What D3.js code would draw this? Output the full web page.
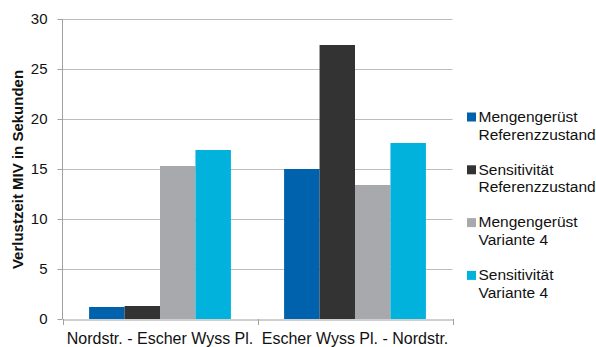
<!DOCTYPE html>
<html>
<head>
<meta charset="utf-8">
<script src="https://cdn.jsdelivr.net/npm/d3@7/dist/d3.min.js"></script>
<style>
  html, body { margin: 0; padding: 0; background: #fff; }
  svg { display: block; font-family: "Liberation Sans", Arial, sans-serif; }
</style>
</head>
<body>
<svg id="chart" width="596" height="347"></svg>
<script>
// Categories (road sections) and series
const categories = ["Nordstr. - Escher Wyss Pl.", "Escher Wyss Pl. - Nordstr."];
const seriesNames = [
  ["Mengengerüst", "Referenzzustand"],
  ["Sensitivität", "Referenzzustand"],
  ["Mengengerüst", "Variante 4"],
  ["Sensitivität", "Variante 4"]
];
const seriesColors = ["#0062ac", "#333333", "#a7a9ac", "#00b2dc"];
// Values per series, in the order of the categories
const mengengeruestReferenz = [1.2, 15.0];
const sensitivitaetReferenz = [1.3, 27.4];
const mengengeruestVariante4 = [15.3, 13.4];
const sensitivitaetVariante4 = [16.9, 17.6];
const seriesValues = [mengengeruestReferenz, sensitivitaetReferenz, mengengeruestVariante4, sensitivitaetVariante4];
const yTicks = [0, 5, 10, 15, 20, 25, 30];
const yTitle = "Verlustzeit MIV in Sekunden";

const svg = d3.select("#chart");
const plot = { left: 62.5, right: 452.5, top: 19, bottom: 319 };
const textColor = "#111";

const x = d3.scaleBand().domain(categories).range([plot.left, plot.right]);
const seriesIdx = d3.range(seriesValues.length);
// gap width of 150 % of one bar: 0.75 bar on each side
const xInner = d3.scaleBand().domain(seriesIdx).range([0, x.bandwidth()]).paddingOuter(0.75).paddingInner(0);
const y = d3.scaleLinear().domain([0, 30]).range([plot.bottom, plot.top]);

// horizontal gridlines
svg.append("g").selectAll("line").data(yTicks.filter(d => d > 0)).join("line")
  .attr("x1", plot.left).attr("x2", plot.right)
  .attr("y1", d => Math.round(y(d)) + 0.5).attr("y2", d => Math.round(y(d)) + 0.5)
  .attr("stroke", "#bdbdbd").attr("stroke-width", 1);

// bars
const groups = svg.append("g").selectAll("g").data(categories).join("g")
  .attr("transform", d => `translate(${x(d)},0)`);
groups.selectAll("rect").data((c, ci) => seriesIdx.map(s => ({ s, v: seriesValues[s][ci] }))).join("rect")
  .attr("x", d => xInner(d.s))
  .attr("width", xInner.bandwidth())
  .attr("y", d => y(d.v))
  .attr("height", d => y(0) - y(d.v))
  .attr("fill", d => seriesColors[d.s]);

// y axis
const yAxis = svg.append("g").attr("transform", `translate(${plot.left},0)`)
  .call(d3.axisLeft(y).tickValues(yTicks).tickSize(5).tickPadding(10));
yAxis.select(".domain").attr("stroke", "#a0a0a0").attr("d", `M0,${plot.top}V${plot.bottom}`);
yAxis.selectAll(".tick line").attr("stroke", "#a0a0a0");
yAxis.selectAll(".tick text").attr("font-size", 15).attr("fill", textColor)
  .attr("font-family", "Liberation Sans, Arial, sans-serif").attr("dy", "0.3em");

// x axis
const xAxis = svg.append("g").attr("transform", `translate(0,${plot.bottom + 0.5})`)
  .call(d3.axisBottom(x).tickSize(0).tickPadding(13));
xAxis.select(".domain").attr("stroke", "#a0a0a0");
xAxis.selectAll(".tick text").attr("font-size", 16).attr("fill", textColor)
  .attr("font-family", "Liberation Sans, Arial, sans-serif");
// category separators
const edges = [plot.left, ...categories.map(c => x(c) + x.bandwidth())];
svg.append("g").selectAll("line").data(edges).join("line")
  .attr("x1", d => Math.round(d) + 0.5).attr("x2", d => Math.round(d) + 0.5)
  .attr("y1", plot.bottom).attr("y2", plot.bottom + 6)
  .attr("stroke", "#a0a0a0");

// y title
svg.append("text")
  .attr("transform", `translate(23,169.5) rotate(-90)`)
  .attr("text-anchor", "middle")
  .attr("font-size", 15).attr("font-weight", "bold").attr("fill", textColor)
  .text(yTitle);

// legend
const legend = svg.append("g").selectAll("g").data(seriesNames).join("g")
  .attr("transform", (d, i) => `translate(467,${112.5 + i * 52.8})`);
legend.append("rect").attr("width", 9).attr("height", 9)
  .attr("fill", (d, i) => seriesColors[i]);
legend.append("text").attr("font-size", 15.5).attr("fill", textColor)
  .selectAll("tspan").data(d => d).join("tspan")
  .attr("x", 11.5).attr("y", (d, i) => 9.2 + i * 18)
  .text(d => d);
</script>
</body>
</html>
